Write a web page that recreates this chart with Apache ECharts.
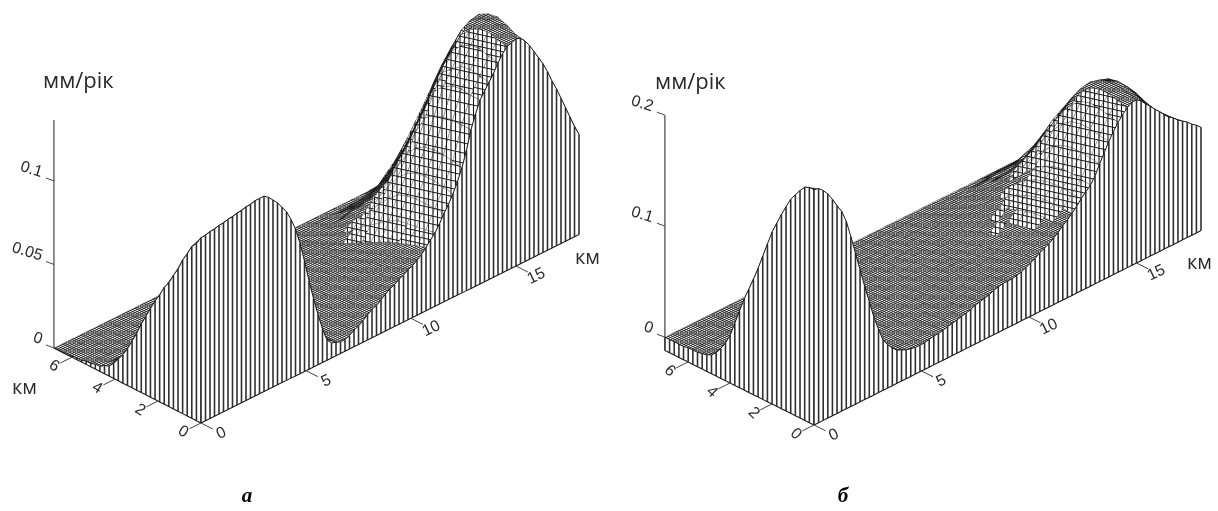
<!DOCTYPE html>
<html><head><meta charset="utf-8">
<style>html,body{margin:0;padding:0;background:#fff}#c{width:1218px;height:511px}</style>
<script src="https://cdn.jsdelivr.net/npm/echarts@6/dist/echarts.min.js"></script>
</head><body><div id="c"></div>
<script>
// heights in thousandths of mm/yr
const frontA=[111,111,112,112,113,113,114,114,115,115,116,116,117,117,117,115,112,109,105,101,95,88,78,66,53,41,30,20,12,9,8,7,7,8,10,11,13,15,17,18,20,22,24,25,27,28,30,31,33,35,38,41,44,48,53,57,62,68,75,84,95,103,110,114,118,122,127,131,134,135,136,135,132,128,123,118,113,107,100,94,87,80,73,66,60];
const leftA=[111,106,103,97,92,85,80,74,70,64,59,53,47,41,34,28,22,17,13,9,6,5,3,3,2,2,1,1,1,0,0,0,0];
const surfaceA=[
[103,104,105,106,107,108,109,109,104,98,88,73,49,28,11,8,7,9,12,16,19,23,25,28,31,36,43,53,63,76,95,110,119,128,135,138,133,124,114,101,88,74,61],
[92,93,94,95,95,96,97,97,93,87,79,65,44,25,11,7,6,9,11,15,18,21,24,26,29,34,42,53,64,77,95,111,120,130,137,139,136,127,116,103,89,75,62],
[80,81,81,82,83,84,84,84,81,76,68,56,38,22,10,7,6,8,11,14,16,20,22,24,27,32,41,53,64,77,94,110,119,129,136,139,138,128,117,104,90,76,62],
[70,71,71,72,72,73,74,74,71,66,60,49,33,19,9,6,5,8,10,13,15,18,20,23,25,30,40,52,63,76,92,107,115,126,133,137,137,127,116,103,89,75,62],
[59,59,60,60,61,61,62,62,59,56,50,41,28,16,8,6,5,7,9,12,14,17,19,21,23,27,37,50,60,73,88,101,110,120,127,133,134,124,113,100,87,73,60],
[47,47,47,48,48,49,49,49,47,44,40,33,22,13,8,5,4,6,8,11,13,15,17,19,21,24,33,45,55,66,77,88,98,108,116,124,127,118,108,95,83,70,57],
[34,35,35,35,36,36,36,36,35,33,29,24,16,9,7,5,4,6,7,10,11,14,15,17,19,21,29,39,47,56,65,74,83,94,102,111,118,109,100,88,77,64,53],
[22,22,23,23,23,23,23,23,22,21,19,16,11,6,6,4,4,5,7,9,10,12,14,15,16,18,25,32,38,45,53,61,69,79,88,98,106,99,91,80,70,58,48],
[13,13,14,14,14,14,14,14,13,13,11,9,6,4,5,4,3,4,6,7,9,11,12,13,14,15,20,26,31,36,41,47,55,64,72,84,93,87,80,70,61,51,42],
[6,7,7,7,7,7,7,7,7,6,6,5,3,2,5,3,3,4,5,6,8,9,10,11,12,12,16,20,24,28,32,37,43,50,58,69,78,72,66,58,51,43,35],
[3,3,3,3,3,3,4,4,3,3,3,2,2,1,4,3,2,3,4,5,6,8,8,9,10,9,12,15,18,21,24,27,33,38,44,55,61,57,52,46,40,34,28],
[2,2,2,2,2,2,2,2,2,2,1,1,1,1,3,2,2,3,3,4,5,6,7,8,8,7,9,11,13,15,17,19,23,26,32,41,47,44,40,35,31,26,21],
[1,1,1,1,1,1,1,1,1,1,1,1,0,0,2,2,1,2,2,3,4,5,5,6,6,5,6,7,8,9,11,12,14,16,20,28,34,32,29,26,23,19,16],
[1,1,1,0,0,0,0,0,0,0,0,0,0,0,2,1,1,1,2,2,3,3,3,4,4,3,3,4,4,5,6,7,8,9,11,17,21,20,18,16,14,12,10],
[0,0,0,0,0,0,0,0,0,0,0,0,0,0,1,1,0,1,1,1,1,2,2,2,2,1,1,1,2,2,2,2,3,3,4,6,10,9,8,7,6,5,4],
[0,0,0,0,0,0,0,0,0,0,0,0,0,0,0,0,0,0,0,0,0,0,0,0,0,0,0,0,0,0,0,0,0,0,0,0,0,0,0,0,0,0,0]];
const frontB=[200,199,195,190,183,175,168,157,141,124,107,90,74,58,45,33,27,22,18,16,14,13,12,12,12,13,14,14,15,16,17,18,19,20,21,23,24,25,26,28,29,30,30,30,31,32,34,36,38,41,43,45,48,51,55,58,62,66,71,75,79,85,94,102,110,117,123,128,132,135,135,132,127,123,118,114,109,105,102,98,95,92,88,85,81];
const leftB=[200,200,198,193,187,181,172,163,153,143,130,117,104,92,81,70,57,44,31,22,15,9,5,3,2,1,1,1,0,0,0,0,0];
const surfaceB=[
[198,193,181,166,140,106,73,45,27,17,13,11,11,13,14,16,18,20,23,24,27,28,29,32,36,41,47,54,62,71,80,95,111,125,134,137,130,120,108,101,93,86,79],
[187,182,171,157,132,100,69,42,25,16,12,11,11,12,13,15,17,18,21,23,25,26,27,30,33,39,46,54,62,72,81,96,113,127,136,139,134,124,112,101,93,85,77],
[172,168,157,144,121,92,64,39,23,15,11,10,10,11,12,14,15,17,20,21,24,24,25,28,31,38,45,53,62,72,81,96,113,128,136,139,135,126,116,103,93,84,76],
[153,149,140,129,108,82,57,34,21,14,11,9,9,11,11,13,14,16,18,20,22,23,23,26,29,36,43,51,60,70,79,94,111,125,133,136,133,125,115,106,95,84,75],
[130,127,119,109,92,70,48,29,18,12,10,8,8,10,10,12,13,14,17,18,20,21,21,23,26,33,41,48,57,67,75,89,105,118,125,130,127,121,111,105,96,85,75],
[104,101,95,87,73,56,38,23,14,11,9,8,8,9,9,11,12,13,15,16,18,19,19,21,24,30,37,45,53,62,69,81,95,107,114,120,118,113,105,100,94,85,75],
[81,79,74,68,57,43,30,18,11,10,8,7,7,8,8,10,11,12,14,15,16,17,17,19,21,28,34,40,47,55,61,71,83,93,99,107,107,103,96,92,88,82,73],
[57,56,52,48,40,30,21,13,8,9,7,6,6,7,8,9,10,11,12,13,15,15,16,17,19,24,29,35,41,47,52,60,70,78,84,93,95,92,86,83,79,75,68],
[31,30,28,26,22,17,11,7,4,8,6,5,5,6,7,7,8,9,11,11,13,13,14,15,17,21,25,29,34,39,43,49,57,63,70,79,82,80,75,72,68,65,60],
[15,15,14,13,11,8,6,3,2,7,5,5,5,5,6,6,7,8,9,10,11,11,12,13,14,17,20,24,27,31,34,38,44,48,54,63,66,64,61,59,56,53,50],
[5,5,5,4,4,3,2,1,1,6,4,4,4,4,5,5,6,7,8,8,9,9,10,11,12,14,16,18,21,24,26,29,34,37,41,48,52,50,48,46,44,42,40],
[2,2,2,2,1,1,1,0,0,5,4,3,3,4,4,4,5,5,6,7,7,8,8,9,10,10,12,14,16,18,20,22,25,27,30,36,38,37,36,34,32,31,30],
[1,1,1,1,1,1,0,0,0,3,3,2,2,3,3,3,4,4,5,5,5,6,6,6,7,7,8,10,11,13,14,15,17,19,22,24,26,25,24,23,21,20,19],
[0,0,0,0,0,0,0,0,0,2,2,2,2,2,2,2,2,3,3,3,4,4,4,4,5,5,5,6,7,8,9,10,11,12,14,15,16,15,14,13,12,12,11],
[0,0,0,0,0,0,0,0,0,1,1,1,1,1,1,1,1,1,2,2,2,2,2,2,2,2,2,3,3,4,4,4,5,5,6,7,7,6,6,5,5,5,4],
[0,0,0,0,0,0,0,0,0,0,0,0,0,0,0,0,0,0,0,0,0,0,0,0,0,0,0,0,0,0,0,0,0,0,0,0,0,0,0,0,0,0,0]];
const xTicks=[0,5,10,15];
const yTicks=[0,2,4,6];
const zTicksA=[0,0.05,0.1];
const zTicksB=[0,0.1,0.2];

const panels=[
 {front:frontA,left:leftA,surf:surfaceA,o:[201,423],ex:[21,-10.47],ey:[-21.5,-10.97],ez:1670,zBase:0,xMax:18,yMax:6.84,zTop:0.1365,zTicks:zTicksA,
  texts:[['мм/рік',43,82,22],['км',12,388,20],['км',575,258,20]],cap:['а',247,497],rotY:-0.55},
 {front:frontB,left:leftB,surf:surfaceB,o:[814,425],ex:[21.5,-10.8],ey:[-21,-10.5],ez:1110,zBase:-0.012,xMax:18,yMax:7.1,zTop:0.2,zTicks:zTicksB,
  texts:[['мм/рік',655,83,22],['км',1187,263,20]],cap:['б',843,497],rotY:-0.75}
];
const ink='#1c1c1c';
// mesh texture tiles (style only)
function tile(w,h,draw){const c=document.createElement('canvas');c.width=w;c.height=h;const g=c.getContext('2d');g.fillStyle='#fff';g.fillRect(0,0,w,h);g.strokeStyle='#1a1a1a';draw(g,w,h);return {image:c,repeat:'repeat'};}
function diamonds(lw){return tile(18,9,(g)=>{g.lineWidth=lw;for(let k=-8;k<8;k++){const o=k*4.5;g.beginPath();g.moveTo(o,0);g.lineTo(o+18,9);g.moveTo(o+18,0);g.lineTo(o,9);g.stroke();}});}
function cells(H){return tile(9*H/2,H,(g,w,h)=>{g.lineWidth=1.1;g.beginPath();for(let x=1;x<w;x+=4.5){g.moveTo(x,0);g.lineTo(x,h);}g.stroke();g.lineWidth=1;g.beginPath();for(let o=-h;o<=h;o+=h){g.moveTo(0,o);g.lineTo(w,o+h);}g.stroke();});}
const texFlat=diamonds(0.8),texDark=diamonds(1.4),texLow=cells(6),texMidLow=cells(8),texMid=cells(10),texHigh=cells(14);
function P(p,x,y,z){return [p.o[0]+p.ex[0]*x+p.ey[0]*y, p.o[1]+p.ex[1]*x+p.ey[1]*y-p.ez*(z-p.zBase)];}
function heightAt(p,i,j){return (j===0?p.front[i*2]:p.surf[j-1][i])/1000;}
function surfaceSeries(p){
  const nx=42,ny=16,dx=p.xMax/nx,dy=p.yMax/ny,data=[];
  for(let j=ny-1;j>=0;j--)for(let i=nx-1;i>=0;i--)data.push([i,j]);
  return {type:'custom',coordinateSystem:'cartesian2d',silent:true,animation:false,clip:false,progressive:0,data,
    renderItem(_,api){
      const i=api.value(0),j=api.value(1);
      const c=[[i,j],[i+1,j],[i+1,j+1],[i,j+1]].map(q=>P(p,q[0]*dx,q[1]*dy,heightAt(p,q[0],q[1])));
      const e1=Math.hypot(c[1][0]-c[0][0],c[1][1]-c[0][1]);
      const A=Math.abs((c[2][0]-c[0][0])*(c[3][1]-c[1][1])-(c[2][1]-c[0][1])*(c[3][0]-c[1][0]))/2;
      const fill=A<32?texDark:e1>40?texHigh:e1>30?texMid:e1>21?texMidLow:e1>16?texLow:texFlat;
      return {type:'polygon',shape:{points:c.map(q=>api.coord(q))},
        style:{fill,stroke:'rgba(20,20,20,0.45)',lineWidth:0.6}};
    }};
}
function wallSeries(p){
  return {type:'custom',coordinateSystem:'cartesian2d',silent:true,animation:false,clip:false,data:[[0,0]],
    renderItem(_,api){
      const ch=[],C=q=>api.coord(q);
      const addWall=(vals,step,pt)=>{
        const top=vals.map((v,k)=>C(pt(k*step,v/1000))),bot=vals.map((v,k)=>C(pt(k*step,p.zBase)));
        ch.push({type:'polygon',shape:{points:top.concat(bot.slice().reverse())},style:{fill:'#fff',stroke:null}});
        top.forEach((t,k)=>ch.push({type:'line',shape:{x1:t[0],y1:t[1],x2:bot[k][0],y2:bot[k][1]},style:{stroke:'#303030',lineWidth:1.6}}));
        ch.push({type:'polyline',shape:{points:top},style:{stroke:ink,lineWidth:1,fill:null}});
        ch.push({type:'polyline',shape:{points:bot},style:{stroke:ink,lineWidth:1.1,fill:null}});
      };
      addWall(p.left,p.yMax/32,(y,z)=>P(p,0,y,z));
      addWall(p.front,p.xMax/84,(x,z)=>P(p,x,0,z));
      return {type:'group',children:ch};
    }};
}
function axisSeries(p){
  return {type:'custom',coordinateSystem:'cartesian2d',silent:true,animation:false,clip:false,data:[[0,0]],
    renderItem(_,api){
      const ch=[],C=q=>api.coord(q);
      const seg=(a,b,w)=>{a=C(a);b=C(b);ch.push({type:'line',shape:{x1:a[0],y1:a[1],x2:b[0],y2:b[1]},style:{stroke:'#444',lineWidth:w}});};
      const txt=(s,q,o)=>{q=C(q);ch.push({type:'text',x:q[0],y:q[1],rotation:o.r||0,style:{text:s,fill:o.c||'#2a2a2a',font:o.f,align:o.a||'center',verticalAlign:'middle'}});};
      seg(P(p,0,p.yMax,p.zBase),P(p,0,p.yMax,p.zTop),1.2);
      const tf='16px "Liberation Sans"';
      p.zTicks.forEach(t=>{const a=P(p,0,p.yMax,t);seg(a,[a[0]-8,a[1]-3],1);txt(String(t),[a[0]-12,a[1]-8],{f:tf,a:'right',r:-0.3});});
      xTicks.forEach(t=>{seg(P(p,t,0,p.zBase),P(p,t,-0.55,p.zBase),1);txt(String(t),P(p,t,-0.95,p.zBase),{f:tf,r:0.45});});
      yTicks.forEach(t=>{seg(P(p,0,t,p.zBase),P(p,-0.55,t,p.zBase),1);txt(String(t),P(p,-0.85,t,p.zBase),{f:tf,r:p.rotY});});
      p.texts.forEach(t=>txt(t[0],[t[1],t[2]],{f:t[3]+'px "Open Sans"',a:'left'}));
      txt(p.cap[0],[p.cap[1],p.cap[2]],{f:'italic bold 21px "Liberation Serif"',c:'#000'});
      return {type:'group',children:ch};
    }};
}
const series=[];
panels.forEach(p=>{series.push(surfaceSeries(p),wallSeries(p),axisSeries(p));});
const chart=echarts.init(document.getElementById('c'),null,{renderer:'canvas'});
chart.setOption({animation:false,backgroundColor:'#fff',
  grid:{left:0,right:0,top:0,bottom:0},
  xAxis:{type:'value',min:0,max:1218,show:false},
  yAxis:{type:'value',min:0,max:511,inverse:true,show:false},
  series});
</script></body></html>
